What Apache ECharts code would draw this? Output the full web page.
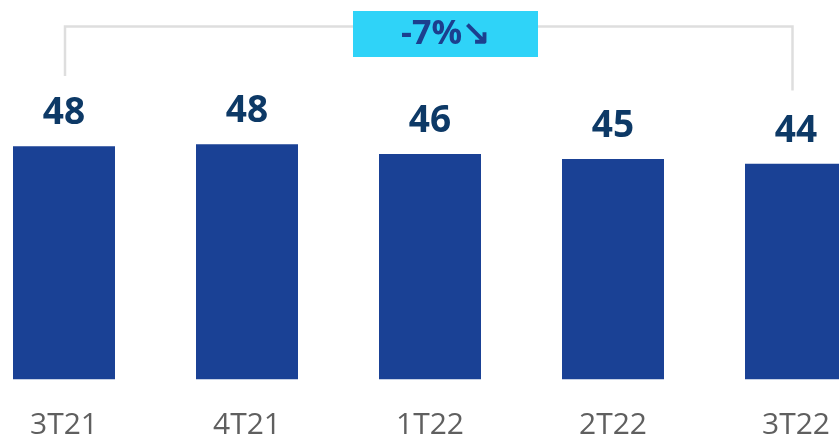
<!DOCTYPE html>
<html>
<head>
<meta charset="utf-8">
<script src="https://cdn.jsdelivr.net/npm/echarts@6/dist/echarts.min.js"></script>
<style>
  html, body { margin: 0; padding: 0; background: #ffffff; }
  #chart { width: 839px; height: 441px; }
</style>
</head>
<body>
<div id="chart"></div>
<script>
const categories = ['3T21', '4T21', '1T22', '2T22', '3T22']
const values = [47.6, 48.0, 46.0, 45.0, 44.0]
const changeText = '-7%\u2198'

const chart = echarts.init(document.getElementById('chart'))

const option = {
  animation: false,
  grid: {
    left: -27.5,
    right: -48.5,
    top: 85.5,
    bottom: 61.7,
    outerBoundsMode: 'none',
    containLabel: false
  },
  xAxis: {
    type: 'category',
    data: categories,
    axisLine: { show: false },
    axisTick: { show: false },
    axisLabel: {
      margin: 31,
      fontFamily: 'Open Sans',
      fontSize: 30,
      color: '#5f5f5f'
    }
  },
  yAxis: {
    type: 'value',
    min: 0,
    max: 60,
    show: false,
    splitLine: { show: false }
  },
  series: [{
    type: 'bar',
    data: values,
    barWidth: 102,
    itemStyle: { color: '#1a4195' },
    label: {
      show: true,
      position: 'top',
      distance: 14,
      fontFamily: 'Open Sans',
      fontWeight: 'bold',
      fontSize: 37,
      color: '#0d3966',
      formatter: p => Math.round(p.value)
    }
  }]
}

chart.setOption(option)

// bracket between first and last quarter, x taken from the category axis
const x0 = chart.convertToPixel({ xAxisIndex: 0 }, categories[0]) + 1
const x1 = chart.convertToPixel({ xAxisIndex: 0 }, categories[categories.length - 1]) - 3.5
const lineStyle = { stroke: '#dedede', lineWidth: 2.5 }

chart.setOption({
  graphic: [
    {
      type: 'polyline',
      shape: { points: [[x0, 76], [x0, 26.5], [x1, 26.5], [x1, 90.5]] },
      style: Object.assign({ fill: null }, lineStyle),
      z: 10
    },
    {
      type: 'rect',
      shape: { x: 353, y: 11, width: 185, height: 46 },
      style: { fill: '#2fd3f8' },
      z: 11
    },
    {
      type: 'text',
      x: 445.5,
      y: 34,
      style: {
        text: changeText,
        align: 'center',
        verticalAlign: 'middle',
        fontFamily: 'Open Sans',
        fontWeight: 'bold',
        fontSize: 34,
        fill: '#1c3f8e'
      },
      z: 12
    }
  ]
})
</script>
</body>
</html>
